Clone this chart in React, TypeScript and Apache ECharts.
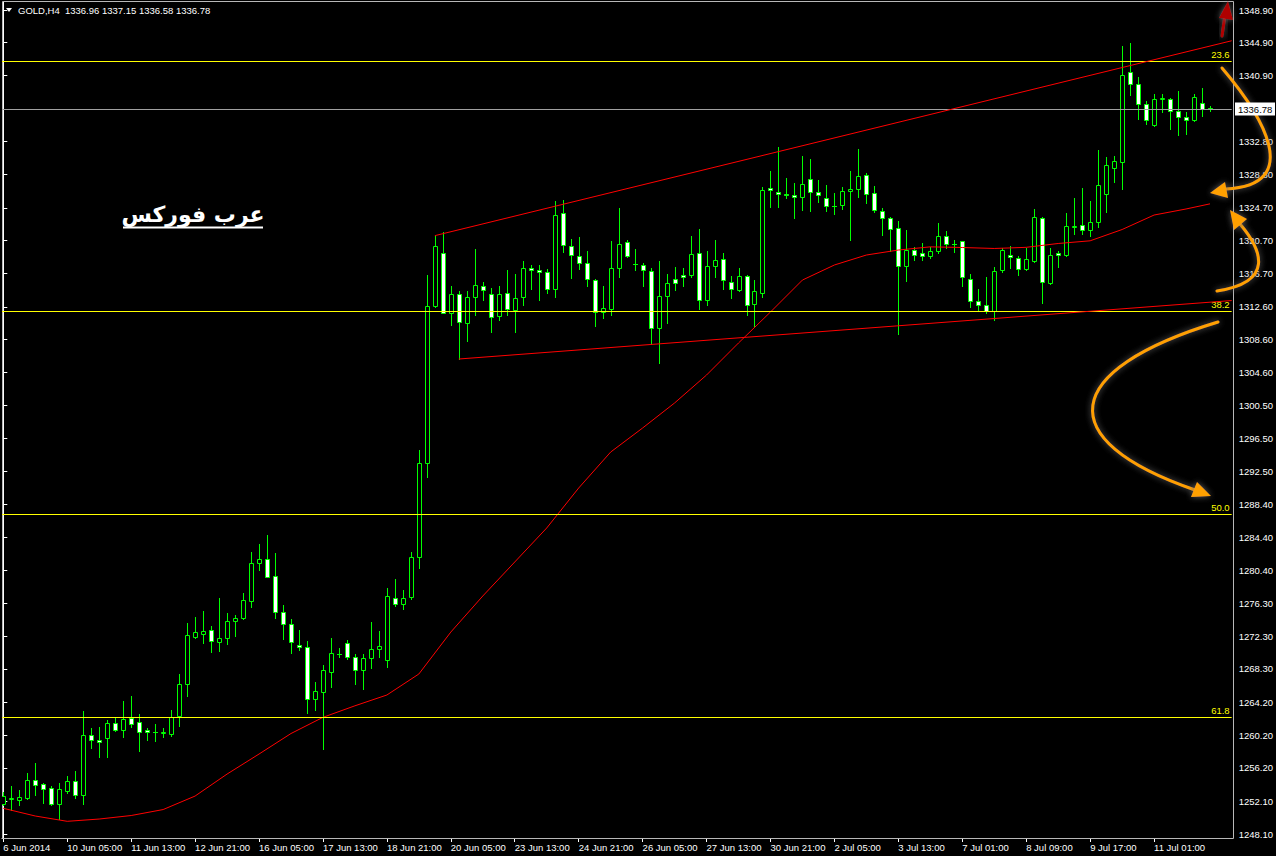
import React, { useEffect, useRef } from "react";
import * as echarts from "echarts";

const W = 1276;
const H = 856;

// ---------- DATA (GOLD, H4) ----------
const opens = [
  1251.77, 1252.35, 1252.30, 1252.55, 1254.71, 1254.22, 1253.73, 1251.81, 1253.40, 1254.59,
  1252.91, 1260.21, 1259.57, 1259.88, 1261.68, 1260.83, 1262.29, 1261.80, 1260.79, 1260.62,
  1260.46, 1260.37, 1262.58, 1266.42, 1272.24, 1272.53, 1273.02, 1271.55, 1272.04, 1274.12,
  1274.49, 1276.57, 1281.22, 1281.71, 1279.63, 1275.22, 1273.76, 1271.19, 1270.94, 1264.58,
  1265.44, 1267.96, 1270.09, 1271.43, 1269.72, 1268.20, 1269.60, 1270.77, 1269.43, 1276.94,
  1276.20, 1277.06, 1281.95, 1293.45, 1312.65, 1319.14, 1311.89, 1314.12, 1310.57, 1313.83,
  1315.10, 1314.12, 1311.43, 1314.24, 1312.16, 1313.75, 1317.30, 1317.06, 1316.81, 1314.73,
  1324.03, 1319.99, 1318.77, 1317.91, 1315.83, 1311.92, 1312.29, 1317.30, 1320.48, 1317.79,
  1317.67, 1316.93, 1309.96, 1313.88, 1315.96, 1316.45, 1316.45, 1319.14, 1313.39, 1317.55,
  1318.40, 1315.59, 1314.61, 1316.32, 1312.90, 1314.24, 1327.09, 1326.60, 1326.35, 1326.23,
  1325.99, 1328.19, 1326.60, 1325.86, 1324.96, 1325.01, 1326.72, 1326.96, 1328.68, 1326.48,
  1324.27, 1323.42, 1322.19, 1317.55, 1319.50, 1319.14, 1318.77, 1319.38, 1321.22, 1320.24,
  1320.60, 1315.96, 1313.26, 1312.78, 1312.04, 1317.06, 1318.97, 1318.60, 1317.18, 1318.23,
  1323.42, 1315.47, 1319.14, 1318.89, 1322.32, 1322.56, 1321.95, 1322.93, 1326.35, 1329.53,
  1330.27, 1341.28, 1339.81, 1337.36, 1334.79, 1337.97, 1337.97, 1336.51, 1335.85, 1335.40,
  1337.48, 1336.96,
];
const highs = [
  1253.28, 1253.98, 1253.49, 1255.57, 1256.79, 1254.38, 1253.98, 1254.31, 1255.16, 1255.81,
  1263.15, 1261.07, 1261.19, 1262.05, 1262.33, 1264.37, 1264.99, 1262.78, 1261.03, 1261.56,
  1261.07, 1263.27, 1267.68, 1273.91, 1274.65, 1275.38, 1273.55, 1276.97, 1275.14, 1274.89,
  1277.58, 1282.60, 1283.58, 1284.68, 1282.48, 1276.12, 1274.40, 1273.06, 1271.71, 1266.70,
  1268.78, 1272.08, 1270.82, 1271.80, 1270.09, 1270.12, 1274.04, 1272.94, 1278.20, 1279.30,
  1277.95, 1282.60, 1295.08, 1316.48, 1321.25, 1321.70, 1315.10, 1314.49, 1314.49, 1319.66,
  1315.63, 1314.89, 1315.10, 1317.09, 1316.60, 1318.19, 1317.67, 1317.67, 1317.18, 1325.53,
  1325.66, 1320.89, 1321.13, 1319.42, 1316.00, 1315.10, 1320.64, 1324.68, 1320.76, 1319.63,
  1317.95, 1317.30, 1318.19, 1316.57, 1317.46, 1317.34, 1321.25, 1322.11, 1319.38, 1320.76,
  1319.14, 1316.32, 1317.30, 1316.48, 1315.83, 1327.28, 1329.20, 1332.14, 1328.35, 1327.74,
  1331.04, 1330.67, 1328.07, 1327.45, 1326.51, 1327.25, 1329.17, 1331.89, 1328.92, 1327.33,
  1324.64, 1323.54, 1323.09, 1321.99, 1319.87, 1320.40, 1319.87, 1322.84, 1321.86, 1320.73,
  1320.70, 1316.57, 1314.77, 1316.20, 1317.42, 1319.75, 1320.07, 1318.84, 1319.75, 1324.52,
  1323.54, 1319.75, 1319.38, 1324.03, 1325.86, 1327.09, 1325.50, 1331.74, 1330.88, 1331.00,
  1344.46, 1344.82, 1340.66, 1337.73, 1338.62, 1338.59, 1338.10, 1338.99, 1336.38, 1338.59,
  1339.32, 1337.15,
];
const lows = [
  1251.60, 1251.04, 1251.65, 1252.40, 1252.88, 1251.93, 1251.69, 1249.94, 1253.16, 1252.55,
  1251.77, 1258.62, 1257.52, 1257.52, 1260.70, 1260.01, 1261.23, 1258.29, 1259.60, 1259.48,
  1260.01, 1260.13, 1261.35, 1265.02, 1272.12, 1271.51, 1270.40, 1270.53, 1271.38, 1272.36,
  1274.40, 1275.91, 1280.40, 1279.50, 1274.56, 1271.99, 1270.28, 1270.65, 1262.94, 1263.27,
  1258.50, 1266.12, 1269.79, 1269.47, 1266.49, 1265.88, 1268.45, 1269.79, 1268.57, 1276.03,
  1275.66, 1276.81, 1280.68, 1291.81, 1312.53, 1311.80, 1310.43, 1306.18, 1308.45, 1311.63,
  1313.46, 1309.55, 1311.01, 1311.63, 1309.55, 1312.85, 1314.81, 1313.46, 1314.32, 1313.83,
  1319.33, 1316.15, 1317.25, 1315.17, 1310.28, 1311.26, 1311.63, 1316.27, 1318.65, 1317.09,
  1315.17, 1308.04, 1305.75, 1310.65, 1314.68, 1315.17, 1316.30, 1312.36, 1312.85, 1316.27,
  1314.81, 1313.71, 1314.50, 1311.63, 1310.08, 1313.83, 1324.80, 1324.84, 1325.94, 1323.49,
  1324.47, 1324.35, 1325.45, 1324.35, 1323.98, 1324.52, 1320.80, 1325.99, 1325.25, 1324.15,
  1321.41, 1319.45, 1309.23, 1315.79, 1318.35, 1318.35, 1318.52, 1319.14, 1319.75, 1319.26,
  1315.17, 1312.60, 1312.12, 1311.87, 1310.98, 1316.81, 1317.37, 1316.52, 1317.06, 1318.11,
  1313.09, 1315.34, 1317.42, 1318.80, 1321.46, 1321.46, 1321.22, 1322.32, 1324.15, 1327.82,
  1326.97, 1338.46, 1335.53, 1334.92, 1334.70, 1336.38, 1334.38, 1333.57, 1333.69, 1335.28,
  1335.89, 1336.58,
];
const closes = [
  1252.75, 1252.51, 1252.63, 1254.71, 1254.14, 1253.65, 1251.81, 1253.61, 1254.59, 1252.91,
  1260.21, 1259.64, 1259.32, 1261.68, 1260.83, 1262.17, 1261.60, 1260.62, 1260.55, 1260.58,
  1260.55, 1262.45, 1266.42, 1272.41, 1272.78, 1272.90, 1271.68, 1272.04, 1274.16, 1274.53,
  1276.69, 1281.22, 1281.71, 1279.54, 1275.22, 1273.76, 1271.55, 1271.02, 1264.58, 1265.56,
  1268.13, 1270.21, 1270.09, 1269.72, 1268.20, 1269.60, 1270.70, 1271.06, 1277.18, 1276.20,
  1276.94, 1281.95, 1293.45, 1312.65, 1319.99, 1311.89, 1314.12, 1310.70, 1313.75, 1315.22,
  1314.61, 1311.31, 1314.12, 1312.29, 1313.63, 1317.30, 1317.06, 1316.81, 1314.73, 1323.82,
  1320.11, 1318.89, 1317.91, 1315.96, 1311.92, 1312.41, 1317.30, 1320.24, 1318.77, 1317.79,
  1317.06, 1309.96, 1313.88, 1315.47, 1315.47, 1316.20, 1319.01, 1313.39, 1317.55, 1318.28,
  1315.83, 1314.73, 1316.32, 1312.78, 1314.49, 1326.84, 1326.84, 1326.35, 1326.23, 1325.99,
  1327.58, 1326.60, 1326.23, 1324.89, 1324.92, 1326.72, 1326.96, 1328.56, 1326.35, 1324.40,
  1323.42, 1322.07, 1317.55, 1319.50, 1318.89, 1318.77, 1319.38, 1321.22, 1320.24, 1320.24,
  1316.20, 1313.26, 1312.78, 1312.04, 1316.93, 1319.50, 1318.65, 1317.18, 1318.40, 1323.54,
  1315.59, 1318.89, 1318.89, 1322.44, 1322.44, 1321.95, 1322.93, 1327.45, 1329.90, 1330.39,
  1340.91, 1339.81, 1337.36, 1335.40, 1337.97, 1338.10, 1336.51, 1335.77, 1335.40, 1338.22,
  1336.75, 1336.78,
];

// moving average (red), read at bar indices
const maIndex = [0, 4, 8, 12, 16, 20, 24, 28, 32, 36, 40, 44, 48, 52, 56, 60, 64, 68, 72, 76,
  80, 84, 88, 92, 96, 100, 104, 108, 112, 116, 120, 124, 128, 132, 136, 140, 144, 148, 151];
const maValue = [1251.25, 1250.31, 1249.66, 1249.94, 1250.37, 1251.10, 1252.75, 1255.44, 1257.89,
  1260.40, 1262.38, 1263.79, 1265.11, 1267.68, 1272.81, 1277.22, 1281.38, 1285.54, 1290.43,
  1294.83, 1297.77, 1300.83, 1304.25, 1308.17, 1311.96, 1315.87, 1317.71, 1318.93, 1319.54,
  1319.93, 1319.85, 1319.73, 1319.87, 1320.34, 1320.67, 1322.05, 1323.82, 1324.56, 1325.19];

// trend channel (bar index, price)
const upperTrend = [[54, 1321.3], [153.71, 1345.14]];
const lowerTrend = [[57, 1306.21], [153.71, 1313.36]];

// fibonacci levels
const fibLabels = ["23.6", "38.2", "50.0", "61.8"];
const fibPrices = [1342.66, 1312.08, 1287.25, 1262.42];

const currentPrice = 1336.78;

const yTicks = [1348.9, 1344.9, 1340.9, 1336.8, 1332.8, 1328.8, 1324.7, 1320.7, 1316.7, 1312.6,
  1308.6, 1304.6, 1300.5, 1296.5, 1292.5, 1288.4, 1284.4, 1280.4, 1276.3, 1272.3, 1268.3,
  1264.2, 1260.2, 1256.2, 1252.1, 1248.1];

const xTickIndex = [0, 8, 16, 24, 32, 40, 48, 56, 64, 72, 80, 88, 96, 104, 112, 120, 128, 136, 144];
const xTickLabels = ["6 Jun 2014", "10 Jun 05:00", "11 Jun 13:00", "12 Jun 21:00", "16 Jun 05:00",
  "17 Jun 13:00", "18 Jun 21:00", "20 Jun 05:00", "23 Jun 13:00", "24 Jun 21:00", "26 Jun 05:00",
  "27 Jun 13:00", "30 Jun 21:00", "2 Jul 05:00", "3 Jul 13:00", "7 Jul 01:00", "8 Jul 09:00",
  "9 Jul 17:00", "11 Jul 01:00"];

const symbolName = "GOLD,H4";
const watermark = "عرب فوركس";

// ---------- STYLE ----------
const FONT = '"Liberation Sans", Arial, sans-serif';
const FS = 9.5;
const GREEN = "#00ff00";
const ORANGE = "#ffa000";

const X_MIN = -0.1625;
const X_MAX = 153.71;
const Y_MIN = 1247.62;
const Y_MAX = 1349.88;

function renderCandle(params: any, api: any) {
  const k = api.value(0);
  const o = api.value(1);
  const h = api.value(2);
  const l = api.value(3);
  const c = api.value(4);
  const po = api.coord([k, o]);
  const pc = api.coord([k, c]);
  const ph = api.coord([k, h]);
  const pl = api.coord([k, l]);
  const x = Math.round(po[0]) + 0.5;
  const top = Math.round(Math.min(po[1], pc[1])) + 0.5;
  const bot = Math.round(Math.max(po[1], pc[1])) + 0.5;
  const children: any[] = [
    {
      type: "line",
      shape: { x1: x, y1: Math.round(ph[1]), x2: x, y2: Math.round(pl[1]) + 1 },
      style: { stroke: GREEN, lineWidth: 1 },
    },
  ];
  if (bot - top < 1) {
    children.push({
      type: "line",
      shape: { x1: x - 2.5, y1: top, x2: x + 2.5, y2: top },
      style: { stroke: GREEN, lineWidth: 1 },
    });
  } else {
    children.push({
      type: "rect",
      shape: { x: x - 2, y: top, width: 4, height: bot - top },
      style: { fill: c < o ? "#ffffff" : "#000000", stroke: GREEN, lineWidth: 1 },
    });
  }
  return { type: "group", children };
}

function arrowHead(points: number[][], color: string) {
  return {
    type: "polygon",
    shape: { points },
    style: { fill: color, shadowBlur: 6, shadowColor: "rgba(110,110,110,0.9)" },
    silent: true,
    z: 20,
  };
}

function curve(s: number[], color: string) {
  return {
    type: "bezierCurve",
    shape: { x1: s[0], y1: s[1], cpx1: s[2], cpy1: s[3], cpx2: s[4], cpy2: s[5], x2: s[6], y2: s[7] },
    style: { stroke: color, lineWidth: 3, fill: "none", lineCap: "round", shadowBlur: 6, shadowColor: "rgba(110,110,110,0.9)" },
    silent: true,
    z: 20,
  };
}

export default function App() {
  const ref = useRef<HTMLDivElement>(null);

  useEffect(() => {
    const chart = echarts.init(ref.current as HTMLDivElement, null, { renderer: "svg", width: W, height: H });
    const candles = opens.map((o, i) => [i, o, highs[i], lows[i], closes[i]]);
    const last = opens.length - 1;

    chart.setOption({
      animation: false,
      backgroundColor: "#000000",
      grid: { left: 2, right: W - 1233, top: 2, bottom: H - 838, containLabel: false },
      xAxis: {
        type: "value",
        min: X_MIN,
        max: X_MAX,
        splitLine: { show: false },
        axisLine: { show: true, lineStyle: { color: "#ffffff", width: 1 } },
        axisTick: { show: true, customValues: xTickIndex, length: 4, lineStyle: { color: "#ffffff" } },
        axisLabel: {
          show: true,
          customValues: xTickIndex,
          formatter: (v: number) => {
            const i = xTickIndex.indexOf(Math.round(v));
            return i >= 0 ? xTickLabels[i] : "";
          },
          color: "#ffffff",
          fontSize: FS,
          fontFamily: FONT,
          align: "left",
          margin: 4,
          hideOverlap: false,
        },
      },
      yAxis: {
        type: "value",
        position: "right",
        min: Y_MIN,
        max: Y_MAX,
        scale: true,
        splitLine: { show: false },
        axisLine: { show: true, lineStyle: { color: "#ffffff", width: 1 } },
        axisTick: { show: true, customValues: yTicks, length: 4, lineStyle: { color: "#ffffff" } },
        axisLabel: {
          show: true,
          customValues: yTicks,
          formatter: (v: number) => v.toFixed(2),
          color: "#ffffff",
          fontSize: FS,
          fontFamily: FONT,
          margin: 7,
          hideOverlap: false,
        },
      },
      series: [
        {
          type: "custom",
          name: "candles",
          data: candles,
          encode: { x: 0, y: [1, 2, 3, 4] },
          renderItem: renderCandle,
          clip: true,
          silent: true,
          z: 2,
        },
        {
          type: "line",
          name: "MA",
          data: maIndex.map((k, i) => [k, maValue[i]]),
          symbol: "none",
          showSymbol: false,
          lineStyle: { color: "#ff0000", width: 1 },
          silent: true,
          z: 4,
          markLine: {
            silent: true,
            symbol: ["none", "none"],
            animation: false,
            lineStyle: { type: "solid", width: 1 },
            data: [
              ...fibPrices.map((p, i) => ({
                yAxis: p,
                lineStyle: { color: "#ffff00", type: "solid", width: 1 },
                label: {
                  show: true,
                  formatter: fibLabels[i],
                  position: "insideEndTop",
                  color: "#ffff00",
                  fontSize: FS,
                  fontFamily: FONT,
                  distance: 2,
                },
              })),
              {
                yAxis: currentPrice,
                lineStyle: { color: "#a0a0a0", type: "solid", width: 1 },
                label: { show: false },
              },
            ],
          },
        },
        {
          type: "line",
          name: "upper",
          data: upperTrend,
          symbol: "none",
          lineStyle: { color: "#ff0000", width: 1 },
          silent: true,
          z: 5,
        },
        {
          type: "line",
          name: "lower",
          data: lowerTrend,
          symbol: "none",
          lineStyle: { color: "#ff0000", width: 1 },
          silent: true,
          z: 5,
        },
      ],
    });

    const py = chart.convertToPixel({ yAxisIndex: 0 }, currentPrice) as number;
    const header =
      symbolName + "  " + [opens[last], highs[last], lows[last], closes[last]].map((v) => v.toFixed(2)).join(" ");

    chart.setOption({
      graphic: [
        {
          type: "rect",
          shape: { x: 2.5, y: 1.5, width: 1231, height: 837 },
          style: { fill: "none", stroke: "#b8b8b8", lineWidth: 1 },
          silent: true,
          z: 1,
        },
        {
          type: "polygon",
          shape: { points: [[6, 8], [12, 8], [9, 12]] },
          style: { fill: "#ffffff" },
          silent: true,
          z: 10,
        },
        {
          type: "text",
          x: 18,
          y: 10,
          style: { text: header, fill: "#ffffff", fontSize: FS, fontFamily: FONT, verticalAlign: "middle", align: "left" },
          silent: true,
          z: 10,
        },
        {
          type: "rect",
          shape: { x: 1235, y: Math.round(py) - 6.5, width: 40, height: 13 },
          style: { fill: "#ffffff" },
          silent: true,
          z: 30,
        },
        {
          type: "text",
          x: 1238,
          y: Math.round(py),
          style: {
            text: currentPrice.toFixed(2),
            fill: "#000000",
            fontSize: FS,
            fontFamily: FONT,
            verticalAlign: "middle",
            align: "left",
          },
          silent: true,
          z: 31,
        },
        {
          type: "text",
          x: 193,
          y: 214,
          style: {
            text: watermark,
            fill: "#ffffff",
            fontSize: 22,
            fontWeight: "bold",
            fontFamily: '"DejaVu Sans", sans-serif',
            align: "center",
            verticalAlign: "middle",
          },
          silent: true,
          z: 10,
        },
        {
          type: "line",
          shape: { x1: 123, y1: 227.5, x2: 263, y2: 227.5 },
          style: { stroke: "#ffffff", lineWidth: 2 },
          silent: true,
          z: 10,
        },
        // orange arrows
        curve([1222, 68, 1262, 115, 1305, 185, 1226, 189], ORANGE),
        arrowHead([[1210, 193], [1228, 198], [1225, 182]], ORANGE),
        curve([1217, 291, 1275, 282, 1262, 250, 1240, 224], ORANGE),
        arrowHead([[1230, 210], [1247, 219], [1234, 230]], ORANGE),
        curve([1218, 322, 1060, 370, 1050, 440, 1195, 490], ORANGE),
        arrowHead([[1211, 496], [1191, 497], [1197, 482]], ORANGE),
        // dark red arrow
        {
          type: "line",
          shape: { x1: 1222, y1: 36, x2: 1225, y2: 15 },
          style: { stroke: "#b00000", lineWidth: 3, lineCap: "round", shadowBlur: 6, shadowColor: "rgba(110,110,110,0.9)" },
          silent: true,
          z: 20,
        },
        arrowHead([[1228, 1], [1219, 18], [1233, 20]], "#b00000"),
      ],
    });

    return () => chart.dispose();
  }, []);

  return (
    <div
      ref={ref}
      style={{ position: "fixed", left: 0, top: 0, width: W, height: H, background: "#000000" }}
    />
  );
}
